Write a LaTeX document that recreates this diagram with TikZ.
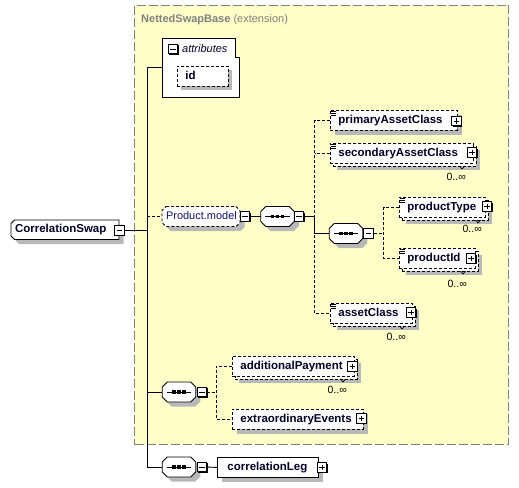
\documentclass[tikz,border=0pt]{standalone}
\usepackage{fontspec}
\setmainfont{Liberation Sans}
\definecolor{extfill}{RGB}{255,255,200}
\definecolor{extline}{RGB}{128,128,128}
\definecolor{shadowgray}{RGB}{184,184,184}
\definecolor{nmcol}{RGB}{0,0,40}
\definecolor{grpcol}{RGB}{20,20,110}
\definecolor{ttlcol}{RGB}{128,128,128}
\newcommand\nmfont{\fontsize{11.5}{13}\selectfont\bfseries}
\newcommand\rgfont{\fontsize{11}{13}\selectfont}
\newcommand\mlfont{\fontsize{10.5}{12}\selectfont}
% octagon from absolute corners: x1,y1,x2,y2,cut,options
\newcommand\octabs[6]{\path[#6] (#1+#5,#2) -- (#3-#5,#2) -- (#3,#2+#5) -- (#3,#4-#5) -- (#3-#5,#4) -- (#1+#5,#4) -- (#1,#4-#5) -- (#1,#2+#5) -- cycle;}
% left-cut shape from absolute corners
\newcommand\lcutabs[6]{\path[#6] (#1+#5,#2) -- (#3,#2) -- (#3,#4) -- (#1+#5,#4) -- (#1,#4-#5) -- (#1,#2+#5) -- cycle;}
% black edge under +/- box: centre x,y
\newcommand\pbsh[2]{\fill[black] (#1-3.75,#2-3.75) rectangle (#1+5.75,#2+5.75);}
% sequence icon
\newcommand\seqicon[1]{\draw[line width=0.9pt] ([xshift=4.5pt]#1.west) -- ([xshift=-4.5pt]#1.east);
  \foreach \dx in {-5,0,5}{\fill ([xshift=\dx pt]#1.center) +(-1.7,-1.6) rectangle +(1.7,1.6);}}
\begin{document}
\begin{tikzpicture}[x=1pt,y=-1pt,
  conn/.style={line width=0.9pt, draw=black},
  opt/.style={dash pattern=on 3pt off 2pt},
  elbox/.style={rectangle, draw=black, fill=white, line width=0.9pt, minimum height=20pt, inner xsep=8pt, inner ysep=0pt, text height=8.5pt, text depth=2.5pt, align=left, anchor=north west, font=\nmfont, text=nmcol},
  shadebox/.style={rectangle, fill=shadowgray, draw=none, inner sep=0pt, minimum height=20pt, anchor=north west},
  repbox/.style={rectangle, fill=white, draw=black, line width=0.9pt, dash pattern=on 3pt off 2pt, inner sep=0pt, minimum height=20pt, anchor=north west},
  pbox/.style={rectangle, draw=black, fill=white, line width=0.8pt, minimum size=9.5pt, inner sep=0pt},
  plusbox/.style={pbox, path picture={\draw[black, line width=0.8pt] ([xshift=2pt]path picture bounding box.west) -- ([xshift=-2pt]path picture bounding box.east) ([yshift=-2pt]path picture bounding box.north) -- ([yshift=2pt]path picture bounding box.south);}},
  minusbox/.style={pbox, path picture={\draw[black, line width=0.8pt] ([xshift=2pt]path picture bounding box.west) -- ([xshift=-2pt]path picture bounding box.east);}},
  seqbox/.style={rectangle, minimum width=33.5pt, minimum height=20pt, inner sep=0pt},
  mult/.style={anchor=east, font=\mlfont, text=black, inner sep=0pt},
  notch/.style={line width=0.7pt, draw=black},
  shapeline/.style={fill=white, draw=black, line width=0.9pt}
]
\useasboundingbox (0,0) rectangle (519,487);

% extension region
\node[rectangle, draw=extline, fill=extfill, line width=1pt, dash pattern=on 9pt off 3pt, minimum width=374pt, minimum height=439pt, anchor=north west, inner sep=0pt] (ext) at (134,5) {};
\node[anchor=west, text=ttlcol, font=\rgfont, inner sep=0pt] (ttl) at (141,19.5) {\textbf{NettedSwapBase} (extension)};

% attributes
\node[rectangle, minimum width=73pt, minimum height=59pt, anchor=north west, inner sep=0pt] (attr) at (162,38) {};
\draw[line width=0.9pt, fill=white] (attr.north west) -- (attr.north east) -- ([yshift=-19pt]attr.north east) -- ([xshift=4pt,yshift=-19pt]attr.north east) -- ([xshift=4pt]attr.south east) -- (attr.south west) -- cycle;
\pbsh{173}{49}
\node[minusbox] (attr-m) at (173,49) {};
\node[anchor=west, font=\rgfont\itshape, text=nmcol, inner sep=0pt] (attr-l) at (182,48.5) {attributes};
\node[shadebox, minimum width=51pt] (id-s) at (181,70) {};
\node[elbox, opt, text width=35pt] (id) at (177,66) {\mbox{id}};

% root
\lcutabs{15.5}{224.5}{123.5}{244}{3.5}{fill=shadowgray}
\lcutabs{11}{220}{119}{239.5}{3.5}{shapeline}
\node[rectangle, minimum width=108pt, minimum height=19.5pt, inner sep=0pt, font=\nmfont, text=nmcol, text width=100pt, align=left, text height=8.5pt, text depth=2.5pt] (cs) at (65,229.75) {\mbox{CorrelationSwap}};

% group reference
\octabs{166.5}{211}{244.5}{231}{4}{fill=shadowgray}
\octabs{162}{206.5}{240}{226.5}{4}{shapeline, opt}
\node[rectangle, minimum width=78pt, minimum height=20pt, inner sep=0pt, font=\rgfont, text=grpcol, text width=70pt, align=left, text height=8.5pt, text depth=2.5pt] (pm) at (201,216.5) {\mbox{Product.model}};

% sequences
\octabs{265.25}{211}{298.75}{231}{5}{fill=shadowgray}
\octabs{260.75}{206.5}{294.25}{226.5}{5}{shapeline}
\node[seqbox] (s1) at (277.5,216.5) {};
\octabs{333.75}{228}{367.25}{248}{5}{fill=shadowgray}
\octabs{329.25}{223.5}{362.75}{243.5}{5}{shapeline}
\node[seqbox] (s2) at (346,233.5) {};
\octabs{166.75}{386.5}{200.25}{406.5}{5}{fill=shadowgray}
\octabs{162.25}{382}{195.75}{402}{5}{shapeline}
\node[seqbox] (s3) at (179,392) {};
\octabs{166.75}{461.5}{200.25}{481.5}{5}{fill=shadowgray}
\octabs{162.25}{457}{195.75}{477}{5}{shapeline}
\node[seqbox] (s4) at (179,467) {};
\foreach \s in {s1,s2,s3,s4}{\seqicon{\s}}

% elements
\node[shadebox, minimum width=127pt] (pac-s) at (334.5,114.5) {};
\node[elbox, opt, text width=111pt] (pac) at (330,110) {\mbox{primaryAssetClass}};
\node[shadebox, minimum width=143pt] (sac-s) at (336.5,149.5) {};
\node[repbox, minimum width=143pt] (sac-r) at (333,146) {};
\node[elbox, opt, text width=127pt] (sac) at (330,143) {\mbox{secondaryAssetClass}};
\node[shadebox, minimum width=86pt] (pt-s) at (405.5,203.5) {};
\node[repbox, minimum width=86pt] (pt-r) at (402,200) {};
\node[elbox, opt, text width=70pt] (pt) at (399,197) {\mbox{productType}};
\node[shadebox, minimum width=76pt] (pid-s) at (405.5,254.5) {};
\node[repbox, minimum width=76pt] (pid-r) at (402,251) {};
\node[elbox, opt, text width=60pt] (pid) at (399,248) {\mbox{productId}};
\node[shadebox, minimum width=82pt] (ac-s) at (336.5,309.5) {};
\node[repbox, minimum width=82pt] (ac-r) at (333,306) {};
\node[elbox, opt, text width=66pt] (ac) at (330,303) {\mbox{assetClass}};
\node[shadebox, minimum width=122pt] (ap-s) at (238.5,362.5) {};
\node[repbox, minimum width=122pt] (ap-r) at (235,359) {};
\node[elbox, opt, text width=106pt] (ap) at (232,356) {\mbox{additionalPayment}};
\node[shadebox, minimum width=131pt] (ee-s) at (236.5,413.5) {};
\node[elbox, opt, text width=115pt] (ee) at (232,409) {\mbox{extraordinaryEvents}};
\node[shadebox, minimum width=101pt] (cl-s) at (221.5,461.5) {};
\node[elbox, text width=84pt, inner xsep=8.5pt] (cl) at (217,457) {\mbox{\hspace*{1.5pt}correlationLeg}};

% +/- boxes
\pbsh{119.3}{230.3}
\node[minusbox] (cs-m) at (119.3,230.3) {};
\pbsh{245}{216.5}
\node[minusbox] (pm-m) at (245,216.5) {};
\pbsh{299}{216.5}
\node[minusbox] (s1-m) at (299,216.5) {};
\pbsh{368.5}{233.5}
\node[minusbox] (s2-m) at (368.5,233.5) {};
\pbsh{202}{392}
\node[minusbox] (s3-m) at (202,392) {};
\pbsh{202}{467}
\node[minusbox] (s4-m) at (202,467) {};
\pbsh{456.5}{121}
\node[plusbox] (pac-p) at (456.5,121) {};
\pbsh{472}{152.5}
\node[plusbox] (sac-p) at (472,152.5) {};
\pbsh{487}{206.5}
\node[plusbox] (pt-p) at (487,206.5) {};
\pbsh{471}{258.5}
\node[plusbox] (pid-p) at (471,258.5) {};
\pbsh{411}{312.5}
\node[plusbox] (ac-p) at (411,312.5) {};
\pbsh{352.5}{366.5}
\node[plusbox] (ap-p) at (352.5,366.5) {};
\pbsh{361.5}{418.5}
\node[plusbox] (ee-p) at (361.5,418.5) {};
\pbsh{322}{467.5}
\node[plusbox] (cl-p) at (322,467.5) {};

% content icons
\foreach \n in {pac,sac,pt,pid,ac}{
  \foreach \d in {1.2,3.4,5.6}{\draw[line width=0.7pt] ([xshift=0.5pt,yshift=-\d pt]\n.north west) -- ++(5.5,0);}
}

% multiplicities
\node[mult] (sac-n) at (466,177) {0..∞};
\node[mult] (pt-n) at (482,228.5) {0..∞};
\node[mult] (pid-n) at (467,283.5) {0..∞};
\node[mult] (ac-n) at (406,336.5) {0..∞};
\node[mult] (ap-n) at (347,389.5) {0..∞};
\draw[notch] (459.5,166) -- (462,169) -- (464.5,166);
\draw[notch] (475.5,220) -- (478,223) -- (480.5,220);
\draw[notch] (460.5,271) -- (463,274) -- (465.5,271);
\draw[notch] (399.5,326) -- (402,329) -- (404.5,326);
\draw[notch] (340.5,379) -- (343,382) -- (345.5,379);

% connectors
\coordinate (trunk) at (147,0);
\coordinate (v1) at (314.5,0);
\coordinate (v2) at (383.5,0);
\coordinate (v3) at (216,0);
\draw[conn] (attr.west) -- (trunk |- attr.west) -- (trunk |- s4.west) -- (s4.west);
\draw[conn] (cs-m.east) -- (trunk |- cs-m.east);
\draw[conn, opt] (trunk |- pm.west) -- (pm.west);
\draw[conn] (trunk |- s3.west) -- (s3.west);
\draw[conn] (pm-m.east) -- (s1.west);
\draw[conn, opt] (pac.west) -- (v1 |- pac.west) -- (v1 |- ac.west) -- (ac.west);
\draw[conn, opt] (sac.west) -- (v1 |- sac.west);
\draw[conn] (s1-m.east) -- (v1 |- s1-m.east) |- (s2.west);
\draw[conn, opt] (s2-m.east) -- (v2 |- s2-m.east);
\draw[conn, opt] (pt.west) -- (v2 |- pt.west) -- (v2 |- pid.west) -- (pid.west);
\draw[conn, opt] (s3-m.east) -- (v3 |- s3-m.east);
\draw[conn, opt] (ap.west) -- (v3 |- ap.west) -- (v3 |- ee.west) -- (ee.west);
\draw[conn] (s4-m.east) -- (cl.west);
\end{tikzpicture}
\end{document}
